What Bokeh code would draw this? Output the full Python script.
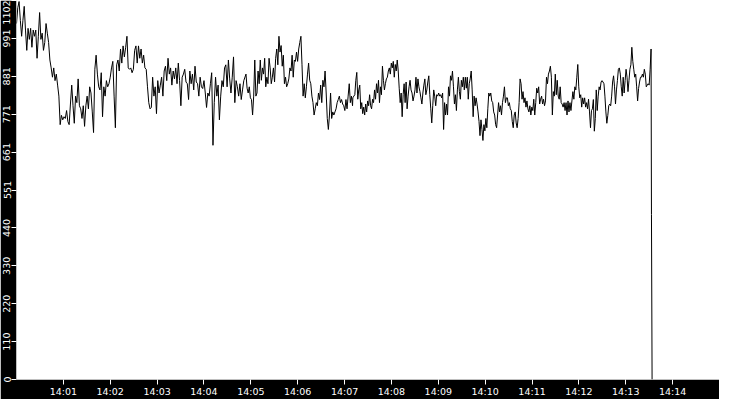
import numpy as np
import pandas as pd
from bokeh.plotting import figure
from bokeh.models import FixedTicker, Range1d, ColumnDataSource
from bokeh.embed import file_html
from bokeh.resources import INLINE

# ---- axis definitions ----
day = "2024-01-01"
x_start = "14:00:00"
x_end = "14:15:00"
x_tick_labels = ["14:01", "14:02", "14:03", "14:04", "14:05", "14:06", "14:07",
                 "14:08", "14:09", "14:10", "14:11", "14:12", "14:13", "14:14"]
y_ticks = [0, 110.2, 220.4, 330.6, 440.8, 551.0, 661.2, 771.4, 881.6, 991.8, 1102]
y_tick_labels = ["0", "110", "220", "330", "440", "551", "661", "771", "881", "991", "1102"]
y_max = 1102

# ---- series, in consecutive time segments ----
# segment time spans (seconds after 14:00:00)
seg_spans = [(0.0, 291.0), (293.8, 430.2), (430.6, 573.3), (574.6, 736.1), (737.3, 812.4)]

seg_a = [1035, 1081, 1099, 1044, 998, 1044, 1085, 1016, 957, 1021, 989, 1021, 966, 1016, 998, 1016,
         934, 998, 1067, 989, 1007, 957, 980, 1035, 1007, 980, 929, 906, 879, 906, 869, 888, 856,
         824, 741, 768, 755, 764, 759, 782, 750, 741, 801, 856, 796, 745, 824, 805, 874, 796, 787,
         759, 796, 736, 796, 824, 787, 851, 833, 778, 718, 902, 943, 888, 851, 842, 892, 764, 851,
         824, 869, 851, 860, 879, 906, 925, 824, 732, 915, 929, 897, 961, 920, 970, 938, 966, 998,
         906, 902, 906, 892, 902, 957, 970, 920, 970, 934, 961, 920, 943, 906, 902, 851, 805, 787,
         791, 879, 824, 851, 773, 869, 833, 856, 879, 824, 897, 911, 869, 934, 888, 906, 856, 897,
         874, 906, 860, 920, 869, 796, 879, 888, 902, 865, 860, 814, 897, 860, 888, 842, 911, 865,
         860, 824, 879, 851, 846, 869, 833, 791, 833, 824, 860, 892, 681, 805, 879, 824, 856, 755,
         824, 869, 851, 906, 915, 851, 929, 874, 833, 879, 938, 805, 869, 851, 824, 860, 814, 842, 869]

seg_b = [888, 847, 833, 851, 819, 814, 769, 824, 929, 824, 833, 897, 860, 929, 870, 906, 888, 934,
         851, 879, 860, 934, 906, 860, 879, 906, 865, 934, 961, 915, 998, 952, 971, 911, 943, 860,
         879, 851, 860, 874, 906, 897, 943, 879, 929, 925, 952, 925, 961, 980, 998, 915, 824, 860,
         819, 851, 888, 920, 870, 860, 824, 805, 769, 787, 805, 796, 833, 814, 856, 805, 870, 851,
         897, 833, 759, 727, 769, 833, 759, 778, 769, 778, 787, 805, 814, 824, 805, 814, 801, 796,
         782, 814, 787, 824, 860, 805, 824, 796]

seg_c = [819, 824, 828, 870, 893, 815, 842, 856, 787, 805, 773, 792, 769, 801, 778, 810, 796, 828,
         796, 787, 815, 805, 842, 815, 860, 833, 870, 805, 851, 828, 911, 870, 842, 860, 874, 879,
         897, 906, 888, 920, 906, 925, 879, 916, 897, 929, 897, 847, 805, 833, 764, 828, 860, 805,
         865, 787, 824, 851, 870, 842, 833, 810, 824, 842, 879, 833, 874, 851, 837, 819, 801, 833,
         856, 874, 828, 842, 865, 883, 828, 787, 746, 796, 842, 824, 796, 828, 824, 833, 824, 828,
         819, 833, 727, 805, 769, 801, 769, 851, 824, 883, 870, 897, 851, 801, 828, 782, 842, 879,
         837, 815, 870, 851, 879, 842]

seg_d = [879, 847, 879, 815, 860, 874, 897, 842, 764, 824, 796, 819, 801, 778, 750, 709, 755, 727,
         695, 741, 723, 759, 732, 787, 833, 824, 833, 810, 805, 778, 769, 741, 732, 769, 805, 778,
         796, 769, 805, 824, 851, 805, 819, 819, 796, 805, 787, 782, 750, 732, 769, 778, 746, 732,
         759, 805, 874, 860, 815, 837, 805, 819, 792, 810, 787, 778, 796, 769, 792, 782, 815, 769,
         805, 847, 833, 851, 801, 815, 824, 801, 815, 796, 810, 879, 860, 888, 897, 911, 879, 769,
         837, 824, 888, 828, 870, 824, 815, 851, 805, 801, 792, 805, 782, 805, 769, 810, 778, 805,
         782, 810, 837, 815, 851, 842, 879, 916, 851, 819, 828, 792, 819, 801, 819, 792, 805, 787,
         815, 778, 732, 782]

seg_e = [787, 814, 722, 759, 842, 782, 824, 851, 842, 865, 869, 865, 860, 824, 778, 745, 768, 796,
         801, 796, 824, 865, 883, 851, 801, 842, 869, 902, 906, 888, 851, 824, 879, 833, 869, 902,
         879, 837, 869, 902, 915, 966, 925, 902, 879, 888, 851, 810, 846, 865, 879, 879, 888, 879,
         902, 888, 851, 856, 860, 856, 902, 961]

# final drop at the end of the record
tail_secs = [812.9, 813.7]
tail_vals = [480, 0]

segments = [seg_a, seg_b, seg_c, seg_d, seg_e]

# ---- build time axis ----
t0 = pd.Timestamp(f"{day} {x_start}")
t0_ms = t0.value // 10**6
x_end_ms = pd.Timestamp(f"{day} {x_end}").value // 10**6

secs = []
vals = []
for (s, e), seg in zip(seg_spans, segments):
    secs.extend(np.linspace(s, e, len(seg)).tolist())
    vals.extend(seg)
secs.extend(tail_secs)
vals.extend(tail_vals)

x_ms = [t0_ms + s * 1000.0 for s in secs]
src = ColumnDataSource(data=dict(t=x_ms, v=vals))

x_tick_ms = [pd.Timestamp(f"{day} {lab}").value // 10**6 for lab in x_tick_labels]

p = figure(width=719, height=399, x_axis_type="datetime",
           output_backend="svg", toolbar_location=None,
           x_range=Range1d(t0_ms, x_end_ms), y_range=Range1d(0, y_max),
           min_border_left=0, min_border_right=0, min_border_top=0, min_border_bottom=0,
           border_fill_color="black", background_fill_color="white",
           outline_line_color=None)
p.grid.visible = False

p.line("t", "v", source=src, line_color="black", line_width=1)

p.xaxis.ticker = FixedTicker(ticks=x_tick_ms)
p.xaxis.major_label_overrides = dict(zip(x_tick_ms, x_tick_labels))
p.yaxis.ticker = FixedTicker(ticks=y_ticks)
p.yaxis.major_label_overrides = dict(zip(y_ticks, y_tick_labels))
p.yaxis.major_label_orientation = "vertical"

for ax in (p.xaxis, p.yaxis):
    ax.axis_line_color = None
    ax.major_tick_line_color = "white"
    ax.major_tick_out = 5
    ax.major_tick_in = 0
    ax.minor_tick_line_color = None
    ax.major_label_text_color = "white"
    ax.major_label_text_font = "DejaVu Sans"
    ax.major_label_text_font_size = "9.5px"
    ax.major_label_standoff = 1

open("out.html", "w").write(file_html(p, INLINE))
